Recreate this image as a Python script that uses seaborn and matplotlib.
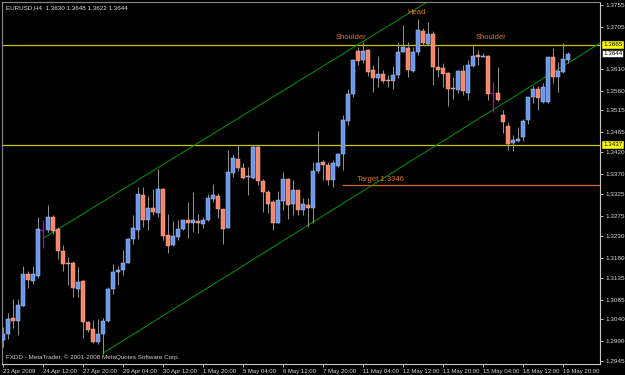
import numpy as np
import pandas as pd
import matplotlib
matplotlib.use("Agg")
import matplotlib.pyplot as plt
import seaborn as sns

# ---------------- data (EURUSD H4) ----------------
opens = [1.2992, 1.3006, 1.3042, 1.3036, 1.3071, 1.3143, 1.3127, 1.3139, 1.3243, 1.3243,
         1.3272, 1.3246, 1.3195, 1.3168, 1.3168, 1.3109, 1.3127, 1.3034, 1.3017, 1.2989,
         1.3006, 1.3036, 1.3109, 1.3148, 1.3152, 1.3168, 1.3222, 1.3244, 1.3322, 1.3267,
         1.3294, 1.3282, 1.3336, 1.3231, 1.3209, 1.3227, 1.3246, 1.3266, 1.3260, 1.3261,
         1.3256, 1.3267, 1.3313, 1.3321, 1.3290, 1.3248, 1.3373, 1.3404, 1.3385, 1.3363,
         1.3362, 1.3432, 1.3355, 1.3330, 1.3306, 1.3260, 1.3309, 1.3360, 1.3302, 1.3334,
         1.3288, 1.3301, 1.3294, 1.3378, 1.3397, 1.3391, 1.3358, 1.3388, 1.3416, 1.3491,
         1.3552, 1.3651, 1.3630, 1.3652, 1.3607, 1.3590, 1.3598, 1.3584, 1.3582, 1.3595,
         1.3648, 1.3658, 1.3604, 1.3648, 1.3696, 1.3667, 1.3689, 1.3614, 1.3611, 1.3601,
         1.3565, 1.3561, 1.3605, 1.3555, 1.3616, 1.3641, 1.3637, 1.3639, 1.3554, 1.3554,
         1.3504, 1.3479, 1.3441, 1.3446, 1.3454, 1.3493, 1.3545, 1.3564, 1.3534, 1.3534,
         1.3636, 1.3591, 1.3602, 1.3630]
highs = [1.3022, 1.3054, 1.3086, 1.3086, 1.3162, 1.3149, 1.3162, 1.3272, 1.3266, 1.3300,
         1.3277, 1.3250, 1.3209, 1.3182, 1.3173, 1.3159, 1.3129, 1.3035, 1.3038, 1.3040,
         1.3043, 1.3114, 1.3165, 1.3161, 1.3197, 1.3224, 1.3277, 1.3341, 1.3341, 1.3320,
         1.3336, 1.3383, 1.3338, 1.3279, 1.3264, 1.3266, 1.3267, 1.3307, 1.3329, 1.3279,
         1.3273, 1.3326, 1.3347, 1.3328, 1.3291, 1.3425, 1.3416, 1.3436, 1.3396, 1.3387,
         1.3436, 1.3436, 1.3360, 1.3334, 1.3311, 1.3331, 1.3374, 1.3361, 1.3357, 1.3335,
         1.3315, 1.3315, 1.3398, 1.3469, 1.3402, 1.3398, 1.3402, 1.3418, 1.3504, 1.3565,
         1.3633, 1.3660, 1.3671, 1.3654, 1.3618, 1.3639, 1.3607, 1.3595, 1.3617, 1.3671,
         1.3709, 1.3671, 1.3660, 1.3723, 1.3702, 1.3717, 1.3696, 1.3660, 1.3622, 1.3603,
         1.3592, 1.3607, 1.3618, 1.3630, 1.3666, 1.3652, 1.3645, 1.3641, 1.3580, 1.3614,
         1.3516, 1.3489, 1.3459, 1.3478, 1.3495, 1.3546, 1.3570, 1.3570, 1.3577, 1.3637,
         1.3657, 1.3625, 1.3668, 1.3648]
lows = [1.2977, 1.2995, 1.3020, 1.3004, 1.3070, 1.3111, 1.3120, 1.3134, 1.3202, 1.3239,
        1.3234, 1.3178, 1.3150, 1.3118, 1.3090, 1.3091, 1.2998, 1.3011, 1.2985, 1.2983,
        1.2962, 1.3034, 1.3097, 1.3118, 1.3140, 1.3167, 1.3211, 1.3222, 1.3250, 1.3244,
        1.3277, 1.3272, 1.3220, 1.3190, 1.3206, 1.3220, 1.3244, 1.3226, 1.3239, 1.3237,
        1.3247, 1.3264, 1.3307, 1.3271, 1.3212, 1.3247, 1.3363, 1.3378, 1.3359, 1.3322,
        1.3360, 1.3345, 1.3283, 1.3281, 1.3244, 1.3259, 1.3288, 1.3269, 1.3277, 1.3277,
        1.3277, 1.3250, 1.3258, 1.3372, 1.3357, 1.3345, 1.3341, 1.3387, 1.3379, 1.3482,
        1.3545, 1.3618, 1.3622, 1.3593, 1.3557, 1.3569, 1.3578, 1.3569, 1.3563, 1.3590,
        1.3647, 1.3592, 1.3603, 1.3641, 1.3664, 1.3664, 1.3573, 1.3592, 1.3569, 1.3525,
        1.3542, 1.3554, 1.3550, 1.3539, 1.3614, 1.3618, 1.3636, 1.3539, 1.3512, 1.3537,
        1.3463, 1.3426, 1.3423, 1.3444, 1.3446, 1.3485, 1.3531, 1.3516, 1.3532, 1.3533,
        1.3577, 1.3557, 1.3600, 1.3622]
closes = [1.3006, 1.3040, 1.3037, 1.3072, 1.3143, 1.3129, 1.3143, 1.3245, 1.3243, 1.3272,
          1.3241, 1.3196, 1.3165, 1.3165, 1.3111, 1.3124, 1.3033, 1.3016, 1.2989, 1.3006,
          1.3036, 1.3109, 1.3147, 1.3152, 1.3169, 1.3222, 1.3247, 1.3325, 1.3267, 1.3294,
          1.3283, 1.3336, 1.3230, 1.3207, 1.3229, 1.3246, 1.3266, 1.3260, 1.3265, 1.3260,
          1.3266, 1.3317, 1.3322, 1.3290, 1.3246, 1.3374, 1.3406, 1.3385, 1.3362, 1.3367,
          1.3432, 1.3355, 1.3329, 1.3303, 1.3260, 1.3311, 1.3359, 1.3301, 1.3334, 1.3288,
          1.3302, 1.3294, 1.3378, 1.3396, 1.3391, 1.3357, 1.3395, 1.3417, 1.3493, 1.3552,
          1.3629, 1.3628, 1.3651, 1.3603, 1.3589, 1.3599, 1.3582, 1.3581, 1.3595, 1.3648,
          1.3660, 1.3607, 1.3648, 1.3698, 1.3669, 1.3690, 1.3614, 1.3608, 1.3598, 1.3563,
          1.3563, 1.3605, 1.3560, 1.3618, 1.3639, 1.3636, 1.3640, 1.3552, 1.3554, 1.3539,
          1.3488, 1.3438, 1.3448, 1.3451, 1.3491, 1.3545, 1.3563, 1.3543, 1.3568, 1.3636,
          1.3591, 1.3604, 1.3632, 1.3644]
marker_bars = [8, 98]

x_tick_bars = [0, 8, 16, 24, 32, 40, 48, 56, 64, 72, 80, 88, 96, 104, 112]
x_tick_labels = ["23 Apr 2009", "24 Apr 12:00", "27 Apr 20:00", "29 Apr 04:00", "30 Apr 12:00",
                 "1 May 20:00", "5 May 04:00", "6 May 12:00", "7 May 20:00", "11 May 04:00",
                 "12 May 12:00", "13 May 20:00", "15 May 04:00", "18 May 12:00", "19 May 20:00"]
y_ticks = [1.3755, 1.3705, 1.3610, 1.3560, 1.3515, 1.3465, 1.3420, 1.3370, 1.3325, 1.3275,
           1.3230, 1.3180, 1.3135, 1.3085, 1.3040, 1.2990, 1.2945]

upper_channel = [(8, 1.3224), (80, 1.3728)]
lower_channel = [(20, 1.2963), (92, 1.3474)]
neckline_top = 1.3665
neckline_low = 1.3437
target_level = 1.3346
target_start = 67.8
last_price = 1.3644
head_label = (80.8, 1.3737)
shoulder_labels = [(66.6, 1.3682), (94.6, 1.3682)]
target_label = (70.8, 1.3359)

# ---------------- style ----------------
sns.set_style("dark", {"axes.facecolor": "black", "figure.facecolor": "black"})
plt.rcParams['font.family'] = ['Liberation Sans', 'DejaVu Sans']

XMIN, XMAX = -0.2, 119.4
YMIN, YMAX = 1.29383, 1.37618

fig = plt.figure(figsize=(6.25, 3.75), dpi=100, facecolor='black')
ax = fig.add_axes([2 / 625, 11 / 375, 598 / 625, 362 / 375])
ax.set_facecolor('black')

x = np.arange(len(opens))
o = np.array(opens); h = np.array(highs); l = np.array(lows); c = np.array(closes)
special = np.isin(x, marker_bars)
normal = ~special
bull = (c > o) & normal
bear = (c < o) & normal
doji = (c == o) & normal

# wicks
ax.vlines(x[normal], l[normal], h[normal], color='#8E8E8E', lw=0.75, zorder=2)
# bodies
minh = 0.00025
ax.bar(x[bull], np.maximum((c - o)[bull], minh), bottom=o[bull], width=0.62,
       color='#6A97EC', edgecolor='#A9C3F3', linewidth=0.35, zorder=3)
ax.bar(x[bear], np.maximum((o - c)[bear], minh), bottom=c[bear], width=0.62,
       color='#F5866C', edgecolor='#F7A890', linewidth=0.35, zorder=3)
ax.hlines(o[doji], x[doji] - 0.35, x[doji] + 0.35, color='#E8E8E8', lw=0.8, zorder=3)
# magenta marker bars
ax.vlines(x[special], l[special], h[special], color='#C000C0', lw=0.9, zorder=3)
ax.hlines(o[special], x[special] - 0.6, x[special], color='#C000C0', lw=0.9, zorder=3)

# horizontal levels
ax.axhline(neckline_top, color='#C8C800', lw=0.9, zorder=1)
ax.axhline(neckline_low, color='#C8C800', lw=0.9, zorder=1)
ax.hlines(target_level, target_start, XMAX, color='#D2691E', lw=0.9, zorder=1)

# channel lines (rays to the right) drawn with seaborn
rows = []
for name, (p0, p1) in [("upper", upper_channel), ("lower", lower_channel)]:
    slope = (p1[1] - p0[1]) / (p1[0] - p0[0])
    rows.append({"line": name, "x": p0[0], "y": p0[1]})
    rows.append({"line": name, "x": XMAX, "y": p0[1] + slope * (XMAX - p0[0])})
df_lines = pd.DataFrame(rows)
sns.lineplot(data=df_lines, x="x", y="y", units="line", estimator=None,
             color='#009000', lw=0.75, ax=ax, zorder=1, legend=False)

# annotations
orange = '#E07A10'
ax.text(head_label[0], head_label[1], "Head", color=orange, fontsize=5.5, ha='left', va='center')
for sx, sy in shoulder_labels:
    ax.text(sx, sy, "Shoulder", color=orange, fontsize=5.5, ha='left', va='center')
ax.text(target_label[0], target_label[1], "Target 1.3346", color=orange, fontsize=5.5,
        ha='left', va='center')

ax.text(0.006, 0.99, "EURUSD,H4  1.3630 1.3648 1.3622 1.3644", transform=ax.transAxes,
        color='#E0E0E0', fontsize=4.5, ha='left', va='top')
ax.text(0.006, 0.012, "FXDD - MetaTrader, \u00a9 2001-2008 MetaQuotes Software Corp.",
        transform=ax.transAxes, color='#D0D0D0', fontsize=4.5, ha='left', va='bottom')

# axes
ax.set_xlim(XMIN, XMAX)
ax.set_ylim(YMIN, YMAX)
ax.set_xlabel(""); ax.set_ylabel("")
ax.grid(False)
ax.yaxis.tick_right()
ax.set_yticks(y_ticks)
ax.set_yticklabels([f"{v:.4f}" for v in y_ticks])
ax.set_xticks(x_tick_bars)
ax.set_xticklabels(x_tick_labels, ha='left')
ax.tick_params(axis='y', colors='#D8D8D8', labelsize=4.6, length=2.5, width=0.6, pad=1.5,
               direction='out', right=True, left=False)
ax.tick_params(axis='x', colors='#D8D8D8', labelsize=4.3, length=2.5, width=0.6, pad=0.8,
               direction='out', bottom=True)
for side in ['left', 'top']:
    ax.spines[side].set_color('#8A8A8A')
    ax.spines[side].set_linewidth(0.8)
for side in ['right', 'bottom']:
    ax.spines[side].set_color('#C8C8C8')
    ax.spines[side].set_linewidth(0.8)

# boxed price labels on the right axis
def price_box(val, fc, ec):
    ax.annotate(f"{val:.4f}", xy=(1.0, val), xycoords=('axes fraction', 'data'),
                xytext=(2.2, 0), textcoords='offset points', ha='left', va='center',
                fontsize=4.5, color='black', annotation_clip=False,
                bbox=dict(boxstyle='square,pad=0.18', fc=fc, ec=ec, lw=0.4))

price_box(neckline_top, '#FFFF00', '#FFFF00')
price_box(last_price, '#FFFFFF', '#000000')
price_box(neckline_low, '#FFFF00', '#FFFF00')

fig.savefig("out.png", dpi=100, facecolor='black')
